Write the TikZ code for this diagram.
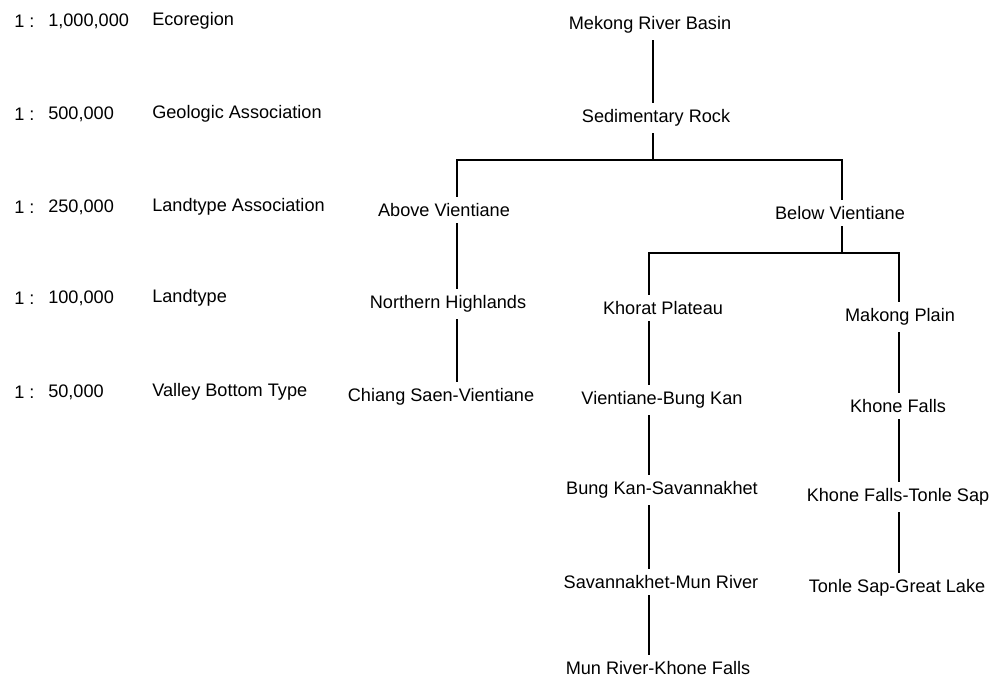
\documentclass[tikz,border=0pt]{standalone}
\usepackage{fontspec}
\setmainfont{Liberation Sans}
\usetikzlibrary{positioning}

\begin{document}
\begin{tikzpicture}[x=0.025cm, y=-0.025cm,
    every node/.style={font=\fontsize{12.9}{15}\selectfont, inner sep=4.5pt},
    scalelbl/.style={anchor=west, inner sep=0pt},
    link/.style={line width=0.9pt}]
  \useasboundingbox (0,0) rectangle (997,679);
  % scales and levels
  \foreach \r/\yy/\sc/\lv in {1/21/{1,000,000}/Ecoregion, 2/114/{500,000}/Geologic Association,
      3/207/{250,000}/Landtype Association, 4/298/{100,000}/Landtype, 5/392/{50,000}/Valley Bottom Type} {
    \node[scalelbl] (one\r) at (14,\yy) {1 :};
    \node[scalelbl] (sc\r) at (48,\yy) {\sc};
    \node[scalelbl] (lv\r) at (152,\yy) {\lv};
  }
  % tree
  \node (mrb) at (650,25) {Mekong River Basin};
  \node (sed) at (656,118) {Sedimentary Rock};
  \node (abv) at (444,210) {Above Vientiane};
  \node (blw) at (840,213) {Below Vientiane};
  \node (nhl) at (448,304) {Northern Highlands};
  \node (csv) at (441,397) {Chiang Saen-Vientiane};
  \node (khp) at (663,308) {Khorat Plateau};
  \node (mkp) at (900,317) {Makong Plain};
  \node (vbk) at (662,400) {Vientiane-Bung Kan};
  \node (kf) at (898,406) {Khone Falls};
  \node (bks) at (662,490) {Bung Kan-Savannakhet};
  \node (smr) at (661,582) {Savannakhet-Mun River};
  \node (mrk) at (658,668) {Mun River-Khone Falls};
  \node (kts) at (898,497) {Khone Falls-Tonle Sap};
  \node (tsg) at (897,588) {Tonle Sap-Great Lake};

  \coordinate (xm) at (653,0);
  \coordinate (xa) at (457,0);
  \coordinate (xb) at (842,0);
  \coordinate (xk) at (649,0);
  \coordinate (xr) at (899,0);
  \coordinate (bar1) at (653,160);
  \coordinate (bar2) at (842,253);

  \draw[link] (mrb.south -| xm) -- (sed.north -| xm);
  \draw[link] (sed.south -| xm) -- (bar1);
  \draw[link] (abv.north -| xa) |- (bar1) -| (blw.north -| xb);
  \draw[link] (abv.south -| xa) -- (nhl.north -| xa);
  \draw[link] (nhl.south -| xa) -- (csv.north -| xa);
  \draw[link] (blw.south -| xb) -- (bar2);
  \draw[link] (khp.north -| xk) |- (bar2) -| (mkp.north -| xr);
  \draw[link] (khp.south -| xk) -- (vbk.north -| xk);
  \draw[link] (vbk.south -| xk) -- (bks.north -| xk);
  \draw[link] (bks.south -| xk) -- (smr.north -| xk);
  \draw[link] (smr.south -| xk) -- (mrk.north -| xk);
  \draw[link] (mkp.south -| xr) -- (kf.north -| xr);
  \draw[link] (kf.south -| xr) -- (kts.north -| xr);
  \draw[link] (kts.south -| xr) -- (tsg.north -| xr);
\end{tikzpicture}
\end{document}
